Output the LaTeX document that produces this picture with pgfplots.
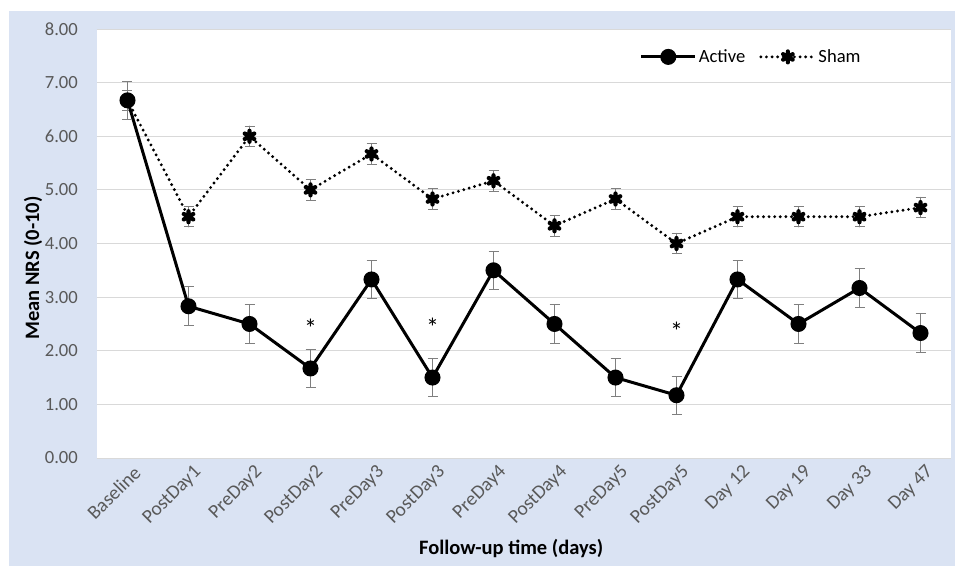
\documentclass[border=0pt]{standalone}
\usepackage{pgfplots}
\pgfplotsset{compat=1.18}
\usepackage{pgfplotstable}
\usepackage{fontspec}
\setmainfont{Carlito}
\definecolor{bgblue}{HTML}{DAE3F3}
\definecolor{ticktxt}{HTML}{595959}
\definecolor{gridc}{HTML}{D9D9D9}
\definecolor{errc}{HTML}{7F7F7F}
\pgfplotstableread{
x y e
0 6.67 0.36
1 2.83 0.36
2 2.50 0.36
3 1.67 0.36
4 3.33 0.36
5 1.50 0.36
6 3.50 0.36
7 2.50 0.36
8 1.50 0.36
9 1.17 0.36
10 3.33 0.36
11 2.50 0.36
12 3.17 0.36
13 2.33 0.36
}\activedata
\pgfplotstableread{
x y e
0 6.67 0.19
1 4.50 0.19
2 6.00 0.19
3 5.00 0.19
4 5.67 0.19
5 4.83 0.19
6 5.17 0.19
7 4.33 0.19
8 4.83 0.19
9 4.00 0.19
10 4.50 0.19
11 4.50 0.19
12 4.50 0.19
13 4.67 0.19
}\shamdata
\begin{document}
\begin{tikzpicture}[x=1pt,y=1pt]
\path[use as bounding box] (-97,-108) rectangle (858,458);
\fill[white] (-97,-108) rectangle (858,458);
\fill[bgblue] (-88,-108) rectangle (858,446.5);
\begin{axis}[
  at={(0,0)}, anchor=south west,
  scale only axis, width=854pt, height=429pt,
  axis background/.style={fill=white},
  clip=false,
  xmin=-0.5, xmax=13.5, ymin=0, ymax=8,
  xtick={0,...,13},
  xticklabels={Baseline,PostDay1,PreDay2,PostDay2,PreDay3,PostDay3,PreDay4,PostDay4,PreDay5,PostDay5,Day 12,Day 19,Day 33,Day 47},
  ytick={0,1,...,8},
  ymajorgrids, grid style={gridc, line width=1pt},
  axis line style={draw=none},
  major tick length=0pt,
  /pgf/number format/assume math mode=true,
  yticklabel style={font=\fontsize{18.6}{20}\selectfont, color=ticktxt,
    /pgf/number format/fixed, /pgf/number format/fixed zerofill, /pgf/number format/precision=2,
    anchor=east, inner sep=0pt, xshift=-19pt},
  xticklabel style={font=\fontsize{19.5}{20}\selectfont, color=ticktxt, rotate=45, anchor=east, inner sep=0pt, xshift=-1pt, yshift=-15pt},
  xlabel={Follow-up time (days)},
  xlabel style={font=\bfseries\fontsize{20.5}{22}\selectfont, at={(axis description cs:0.485,-0.21)}, anchor=center},
  ylabel={Mean NRS (0-10)},
  ylabel style={font=\bfseries\fontsize{20.5}{22}\selectfont, at={(axis description cs:-0.075,0.443)}, anchor=center},
  legend style={at={(axis description cs:0.766,0.935)}, anchor=center, draw=none, fill=white,
    font=\fontsize{18.6}{20}\selectfont, /tikz/every even column/.append style={column sep=12pt}},
  legend columns=2,
  reverse legend,
  legend image code/.code={\draw[mark repeat=2,mark phase=2,#1] plot coordinates {(0pt,0pt) (27pt,0pt) (54pt,0pt)};},
  error bars/y dir=both, error bars/y explicit,
  error bars/error bar style={line width=0.9pt, errc, solid},
  error bars/error mark options={rotate=90, mark size=5pt, line width=0.9pt, errc, solid},
]
\addplot[black, line width=3.2pt, dash pattern=on 0pt off 5.6pt, line cap=round,
  mark=asterisk, mark size=5.5pt, mark options={solid, line width=4.2pt, line cap=round}]
  table[x=x, y=y, y error=e] {\shamdata};
\addlegendentry{Sham}
\addplot[black, line width=3pt, mark=*, mark size=6.5pt, mark options={solid}]
  table[x=x, y=y, y error=e] {\activedata};
\addlegendentry{Active}
\node[font=\fontsize{26}{26}\selectfont] at (axis cs:3,2.42) {*};
\node[font=\fontsize{26}{26}\selectfont] at (axis cs:5,2.44) {*};
\node[font=\fontsize{26}{26}\selectfont] at (axis cs:9,2.37) {*};
\end{axis}
\end{tikzpicture}
\end{document}
